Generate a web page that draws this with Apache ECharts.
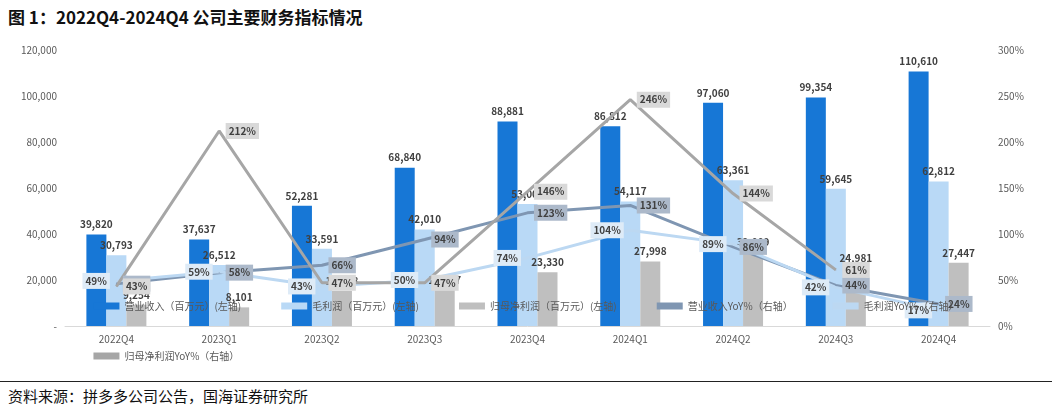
<!DOCTYPE html>
<html>
<head>
<meta charset="utf-8">
<script src="https://cdn.jsdelivr.net/npm/echarts@6/dist/echarts.min.js"></script>
<style>
body { margin: 0; background: #fff; font-family: "Noto Sans CJK SC", sans-serif; }
.title { position: absolute; left: 8px; top: 4px; font-size: 17px; font-weight: bold; color: #111; }
.botline { position: absolute; left: 0; top: 381px; width: 1052px; border-top: 1px solid #222; }
.src { position: absolute; left: 8px; top: 385px; font-size: 15px; color: #111; }
#chart { position: absolute; left: 0; top: 34px; width: 1052px; height: 346px; }
</style>
</head>
<body>
<div class="title">图 1：2022Q4-2024Q4 公司主要财务指标情况</div>
<div id="chart"></div>
<div class="botline"></div>
<div class="src">资料来源：拼多多公司公告，国海证券研究所</div>
<script>
// 季度
var quarters = ['2022Q4', '2023Q1', '2023Q2', '2023Q3', '2023Q4', '2024Q1', '2024Q2', '2024Q3', '2024Q4'];
// 营业收入、毛利润、归母净利润（百万元）
var revenue = [39820, 37637, 52281, 68840, 88881, 86812, 97060, 99354, 110610];
var grossProfit = [30793, 26512, 33591, 42010, 53005, 54117, 63361, 59645, 62812];
var netProfit = [9254, 8101, 15268, 15537, 23330, 27998, 32009, 24981, 27447];
// 同比（%）
var revenueYoY = [46, 58, 66, 94, 123, 131, 86, 44, 24];
var grossYoY = [49, 59, 43, 50, 74, 104, 89, 42, 17];
var netYoY = [43, 212, 47, 47, 146, 246, 144, 61, null];

var chart = echarts.init(document.getElementById('chart'));

function barLabel () {
    return {
        show: true, position: 'top', fontSize: 10, color: '#404040', fontWeight: 'bold',
        formatter: function (p) { return p.value.toLocaleString('en-US'); }
    };
}
function lineLabel (bg, pos) {
    return {
        show: true, position: pos, distance: 6, fontSize: 10, color: '#404040', fontWeight: 'bold',
        backgroundColor: bg, padding: [3, 3],
        formatter: function (p) { return p.value == null ? '' : p.value + '%'; }
    };
}

var option = {
    textStyle: { fontFamily: '"Noto Sans CJK SC", sans-serif' },
    grid: { left: 65, right: 62, top: 16, bottom: 54 },
    legend: {
        bottom: 14, itemWidth: 26, itemHeight: 7, itemGap: 40,
        textStyle: { fontSize: 10, color: '#595959' },
        data: [
            { name: '营业收入（百万元）(左轴)', icon: 'rect' },
            { name: '毛利润（百万元）(左轴)', icon: 'rect' },
            { name: '归母净利润（百万元）(左轴)', icon: 'rect' },
            { name: '营业收入YoY%（右轴）', icon: 'rect' },
            { name: '毛利润YoY%（右轴）', icon: 'rect' },
            { name: '归母净利润YoY%（右轴）', icon: 'rect' }
        ]
    },
    xAxis: {
        type: 'category', data: quarters,
        axisLine: { lineStyle: { color: '#d9d9d9' } },
        axisTick: { show: false },
        axisLabel: { color: '#595959', fontSize: 10 }
    },
    yAxis: [
        {
            type: 'value', min: 0, max: 120000, interval: 20000,
            splitLine: { show: false }, axisLine: { show: false },
            axisLabel: {
                color: '#595959', fontSize: 10,
                formatter: function (v) { return v === 0 ? '-' : v.toLocaleString('en-US'); }
            }
        },
        {
            type: 'value', min: 0, max: 300, interval: 50,
            splitLine: { show: false }, axisLine: { show: false },
            axisLabel: { color: '#595959', fontSize: 10, formatter: '{value}%' }
        }
    ],
    series: [
        { name: '营业收入（百万元）(左轴)', type: 'bar', data: revenue, barWidth: 20, barGap: '0%',
          itemStyle: { color: '#1777d6' }, label: barLabel() },
        { name: '毛利润（百万元）(左轴)', type: 'bar', data: grossProfit, barWidth: 20,
          itemStyle: { color: '#b9d9f6' }, label: barLabel() },
        { name: '归母净利润（百万元）(左轴)', type: 'bar', data: netProfit, barWidth: 20,
          itemStyle: { color: '#bfbfbf' }, label: barLabel() },
        { name: '营业收入YoY%（右轴）', type: 'line', yAxisIndex: 1, data: revenueYoY,
          symbol: 'circle', symbolSize: 1, showSymbol: true,
          lineStyle: { color: '#7f96b2', width: 3 }, itemStyle: { color: '#7f96b2' },
          label: lineLabel('#acb9ca', 'right') },
        { name: '毛利润YoY%（右轴）', type: 'line', yAxisIndex: 1, data: grossYoY,
          symbol: 'circle', symbolSize: 1, showSymbol: true,
          lineStyle: { color: '#bcd8f2', width: 3 }, itemStyle: { color: '#bcd8f2' },
          label: lineLabel('#deebf7', 'left') },
        { name: '归母净利润YoY%（右轴）', type: 'line', yAxisIndex: 1, data: netYoY,
          symbol: 'circle', symbolSize: 1, showSymbol: true,
          lineStyle: { color: '#a6a6a6', width: 3 }, itemStyle: { color: '#a6a6a6' },
          label: lineLabel('#d9d9d9', 'right') }
    ]
};
chart.setOption(option);
</script>
</body>
</html>
